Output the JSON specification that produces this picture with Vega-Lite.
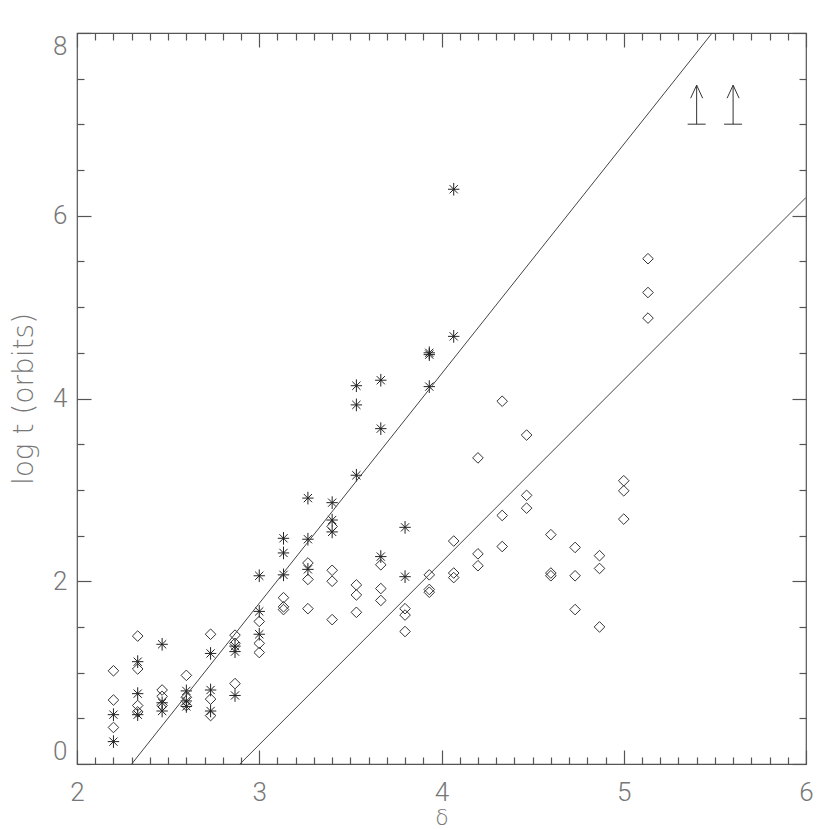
{
  "$schema": "https://vega.github.io/schema/vega-lite/v6.json",
  "width": 729,
  "height": 731,
  "autosize": {"type": "none"},
  "padding": {"left": 77, "top": 33, "right": 24, "bottom": 66},
  "background": "white",
  "config": {
    "view": {"stroke": "#555", "strokeWidth": 1.2},
    "axis": {"grid": false, "domain": false, "tickColor": "#555", "tickWidth": 1.2, "labelColor": "#777", "titleColor": "#777", "labelFont": "Roboto", "titleFont": "DejaVu Sans", "labelFontWeight": 300, "titleFontWeight": 200}
  },
  "datasets": {
    "pts": [
      {"delta": 2.2, "logt": 0.54, "kind": "star"},
      {"delta": 2.2, "logt": 0.245, "kind": "star"},
      {"delta": 2.333, "logt": 1.12, "kind": "star"},
      {"delta": 2.333, "logt": 0.77, "kind": "star"},
      {"delta": 2.333, "logt": 0.54, "kind": "star"},
      {"delta": 2.467, "logt": 1.31, "kind": "star"},
      {"delta": 2.467, "logt": 0.67, "kind": "star"},
      {"delta": 2.467, "logt": 0.58, "kind": "star"},
      {"delta": 2.6, "logt": 0.8, "kind": "star"},
      {"delta": 2.6, "logt": 0.69, "kind": "star"},
      {"delta": 2.6, "logt": 0.63, "kind": "star"},
      {"delta": 2.733, "logt": 1.21, "kind": "star"},
      {"delta": 2.733, "logt": 0.81, "kind": "star"},
      {"delta": 2.733, "logt": 0.58, "kind": "star"},
      {"delta": 2.867, "logt": 1.29, "kind": "star"},
      {"delta": 2.867, "logt": 1.23, "kind": "star"},
      {"delta": 2.867, "logt": 0.75, "kind": "star"},
      {"delta": 3.0, "logt": 2.06, "kind": "star"},
      {"delta": 3.0, "logt": 1.67, "kind": "star"},
      {"delta": 3.0, "logt": 1.42, "kind": "star"},
      {"delta": 3.133, "logt": 2.47, "kind": "star"},
      {"delta": 3.133, "logt": 2.31, "kind": "star"},
      {"delta": 3.133, "logt": 2.07, "kind": "star"},
      {"delta": 3.267, "logt": 2.91, "kind": "star"},
      {"delta": 3.267, "logt": 2.46, "kind": "star"},
      {"delta": 3.267, "logt": 2.13, "kind": "star"},
      {"delta": 3.4, "logt": 2.86, "kind": "star"},
      {"delta": 3.4, "logt": 2.67, "kind": "star"},
      {"delta": 3.4, "logt": 2.54, "kind": "star"},
      {"delta": 3.533, "logt": 4.14, "kind": "star"},
      {"delta": 3.533, "logt": 3.93, "kind": "star"},
      {"delta": 3.533, "logt": 3.16, "kind": "star"},
      {"delta": 3.667, "logt": 4.2, "kind": "star"},
      {"delta": 3.667, "logt": 3.67, "kind": "star"},
      {"delta": 3.667, "logt": 2.27, "kind": "star"},
      {"delta": 3.8, "logt": 2.59, "kind": "star"},
      {"delta": 3.8, "logt": 2.05, "kind": "star"},
      {"delta": 3.933, "logt": 4.5, "kind": "star"},
      {"delta": 3.933, "logt": 4.48, "kind": "star"},
      {"delta": 3.933, "logt": 4.13, "kind": "star"},
      {"delta": 4.067, "logt": 6.29, "kind": "star"},
      {"delta": 4.067, "logt": 4.68, "kind": "star"},
      {"delta": 2.2, "logt": 1.02, "kind": "diamond"},
      {"delta": 2.2, "logt": 0.7, "kind": "diamond"},
      {"delta": 2.2, "logt": 0.4, "kind": "diamond"},
      {"delta": 2.333, "logt": 1.4, "kind": "diamond"},
      {"delta": 2.333, "logt": 1.04, "kind": "diamond"},
      {"delta": 2.333, "logt": 0.64, "kind": "diamond"},
      {"delta": 2.333, "logt": 0.57, "kind": "diamond"},
      {"delta": 2.467, "logt": 0.81, "kind": "diamond"},
      {"delta": 2.467, "logt": 0.74, "kind": "diamond"},
      {"delta": 2.467, "logt": 0.64, "kind": "diamond"},
      {"delta": 2.6, "logt": 0.97, "kind": "diamond"},
      {"delta": 2.6, "logt": 0.73, "kind": "diamond"},
      {"delta": 2.6, "logt": 0.64, "kind": "diamond"},
      {"delta": 2.733, "logt": 1.42, "kind": "diamond"},
      {"delta": 2.733, "logt": 0.71, "kind": "diamond"},
      {"delta": 2.733, "logt": 0.53, "kind": "diamond"},
      {"delta": 2.867, "logt": 1.41, "kind": "diamond"},
      {"delta": 2.867, "logt": 1.32, "kind": "diamond"},
      {"delta": 2.867, "logt": 0.88, "kind": "diamond"},
      {"delta": 3.0, "logt": 1.56, "kind": "diamond"},
      {"delta": 3.0, "logt": 1.32, "kind": "diamond"},
      {"delta": 3.0, "logt": 1.22, "kind": "diamond"},
      {"delta": 3.133, "logt": 1.82, "kind": "diamond"},
      {"delta": 3.133, "logt": 1.72, "kind": "diamond"},
      {"delta": 3.133, "logt": 1.69, "kind": "diamond"},
      {"delta": 3.267, "logt": 2.2, "kind": "diamond"},
      {"delta": 3.267, "logt": 2.02, "kind": "diamond"},
      {"delta": 3.267, "logt": 1.7, "kind": "diamond"},
      {"delta": 3.4, "logt": 2.6, "kind": "diamond"},
      {"delta": 3.4, "logt": 2.12, "kind": "diamond"},
      {"delta": 3.4, "logt": 2.0, "kind": "diamond"},
      {"delta": 3.4, "logt": 1.58, "kind": "diamond"},
      {"delta": 3.533, "logt": 1.96, "kind": "diamond"},
      {"delta": 3.533, "logt": 1.85, "kind": "diamond"},
      {"delta": 3.533, "logt": 1.66, "kind": "diamond"},
      {"delta": 3.667, "logt": 2.18, "kind": "diamond"},
      {"delta": 3.667, "logt": 1.92, "kind": "diamond"},
      {"delta": 3.667, "logt": 1.79, "kind": "diamond"},
      {"delta": 3.8, "logt": 1.7, "kind": "diamond"},
      {"delta": 3.8, "logt": 1.63, "kind": "diamond"},
      {"delta": 3.8, "logt": 1.45, "kind": "diamond"},
      {"delta": 3.933, "logt": 2.07, "kind": "diamond"},
      {"delta": 3.933, "logt": 1.91, "kind": "diamond"},
      {"delta": 3.933, "logt": 1.88, "kind": "diamond"},
      {"delta": 4.067, "logt": 2.44, "kind": "diamond"},
      {"delta": 4.067, "logt": 2.09, "kind": "diamond"},
      {"delta": 4.067, "logt": 2.04, "kind": "diamond"},
      {"delta": 4.2, "logt": 3.35, "kind": "diamond"},
      {"delta": 4.2, "logt": 2.3, "kind": "diamond"},
      {"delta": 4.2, "logt": 2.17, "kind": "diamond"},
      {"delta": 4.333, "logt": 3.97, "kind": "diamond"},
      {"delta": 4.333, "logt": 2.72, "kind": "diamond"},
      {"delta": 4.333, "logt": 2.38, "kind": "diamond"},
      {"delta": 4.467, "logt": 3.6, "kind": "diamond"},
      {"delta": 4.467, "logt": 2.94, "kind": "diamond"},
      {"delta": 4.467, "logt": 2.8, "kind": "diamond"},
      {"delta": 4.6, "logt": 2.51, "kind": "diamond"},
      {"delta": 4.6, "logt": 2.09, "kind": "diamond"},
      {"delta": 4.6, "logt": 2.06, "kind": "diamond"},
      {"delta": 4.733, "logt": 2.37, "kind": "diamond"},
      {"delta": 4.733, "logt": 2.06, "kind": "diamond"},
      {"delta": 4.733, "logt": 1.69, "kind": "diamond"},
      {"delta": 4.867, "logt": 2.28, "kind": "diamond"},
      {"delta": 4.867, "logt": 2.14, "kind": "diamond"},
      {"delta": 4.867, "logt": 1.5, "kind": "diamond"},
      {"delta": 5.0, "logt": 3.1, "kind": "diamond"},
      {"delta": 5.0, "logt": 2.99, "kind": "diamond"},
      {"delta": 5.0, "logt": 2.68, "kind": "diamond"},
      {"delta": 5.133, "logt": 5.53, "kind": "diamond"},
      {"delta": 5.133, "logt": 5.16, "kind": "diamond"},
      {"delta": 5.133, "logt": 4.88, "kind": "diamond"}
    ],
    "fits": [
      {"line": "a", "delta": 2.3, "logt": 0},
      {"line": "a", "delta": 5.485, "logt": 8},
      {"line": "b", "delta": 2.894, "logt": 0},
      {"line": "b", "delta": 6.0, "logt": 6.2}
    ],
    "limits": [
      {"delta": 5.4, "logt": 7.21},
      {"delta": 5.6, "logt": 7.21}
    ]
  },
  "layer": [
    {
      "data": {"name": "pts"},
      "transform": [{"filter": "datum.kind === 'diamond'"}],
      "mark": {"type": "point", "shape": "M-0.93,0L0,-0.93L0.93,0L0,0.93Z", "filled": false, "stroke": "#333", "strokeWidth": 1, "size": 130, "opacity": 1},
      "encoding": {
        "x": {"field": "delta", "type": "quantitative", "scale": {"domain": [2, 6], "nice": false, "zero": false},
              "axis": {"orient": "bottom", "values": [2, 3, 4, 5, 6], "tickSize": -14, "labelPadding": 29, "labelFontSize": 26, "labelFlush": false, "title": "δ", "titleFontSize": 22, "titlePadding": 2}},
        "y": {"field": "logt", "type": "quantitative", "scale": {"domain": [0, 8], "nice": false, "zero": false},
              "axis": {"orient": "left", "values": [0, 2, 4, 6, 8], "tickSize": -14, "labelPadding": 24, "labelFontSize": 26, "labelFlush": true, "title": "log t (orbits)", "titleFontSize": 28, "titlePadding": 14}}
      }
    },
    {
      "data": {"name": "pts"},
      "transform": [{"filter": "datum.kind === 'star'"}],
      "mark": {"type": "point", "shape": "M0,-1L0,1M-0.9,0L0.9,0M-0.65,-0.65L0.65,0.65M-0.65,0.65L0.65,-0.65", "filled": false, "stroke": "#222", "strokeWidth": 1, "size": 160, "opacity": 1},
      "encoding": {
        "x": {"field": "delta", "type": "quantitative",
              "axis": {"orient": "bottom", "values": [2.1,2.2,2.3,2.4,2.5,2.6,2.7,2.8,2.9,3.1,3.2,3.3,3.4,3.5,3.6,3.7,3.8,3.9,4.1,4.2,4.3,4.4,4.5,4.6,4.7,4.8,4.9,5.1,5.2,5.3,5.4,5.5,5.6,5.7,5.8,5.9], "tickSize": -7, "labels": false, "title": null}},
        "y": {"field": "logt", "type": "quantitative",
              "axis": {"orient": "left", "values": [0.5,1,1.5,2.5,3,3.5,4.5,5,5.5,6.5,7,7.5], "tickSize": -7, "labels": false, "title": null}}
      }
    },
    {
      "data": {"name": "fits"},
      "mark": {"type": "line", "stroke": "#444", "strokeWidth": 1, "clip": true},
      "encoding": {
        "x": {"field": "delta", "type": "quantitative",
              "axis": {"orient": "top", "values": [2, 3, 4, 5, 6], "tickSize": -14, "labels": false, "title": null}},
        "y": {"field": "logt", "type": "quantitative",
              "axis": {"orient": "right", "values": [0, 2, 4, 6, 8], "tickSize": -14, "labels": false, "title": null}},
        "detail": {"field": "line", "type": "nominal"}
      }
    },
    {
      "data": {"name": "limits"},
      "mark": {"type": "point", "shape": "M-0.45,0.95L0.45,0.95M0,0.95L0,-1M-0.3,-0.35L0,-1L0.3,-0.35", "filled": false, "stroke": "#333", "strokeWidth": 1, "size": 1600, "opacity": 1},
      "encoding": {
        "x": {"field": "delta", "type": "quantitative",
              "axis": {"orient": "top", "values": [2.1,2.2,2.3,2.4,2.5,2.6,2.7,2.8,2.9,3.1,3.2,3.3,3.4,3.5,3.6,3.7,3.8,3.9,4.1,4.2,4.3,4.4,4.5,4.6,4.7,4.8,4.9,5.1,5.2,5.3,5.4,5.5,5.6,5.7,5.8,5.9], "tickSize": -7, "labels": false, "title": null}},
        "y": {"field": "logt", "type": "quantitative",
              "axis": {"orient": "right", "values": [0.5,1,1.5,2.5,3,3.5,4.5,5,5.5,6.5,7,7.5], "tickSize": -7, "labels": false, "title": null}}
      }
    }
  ],
  "resolve": {"axis": {"x": "independent", "y": "independent"}}
}
